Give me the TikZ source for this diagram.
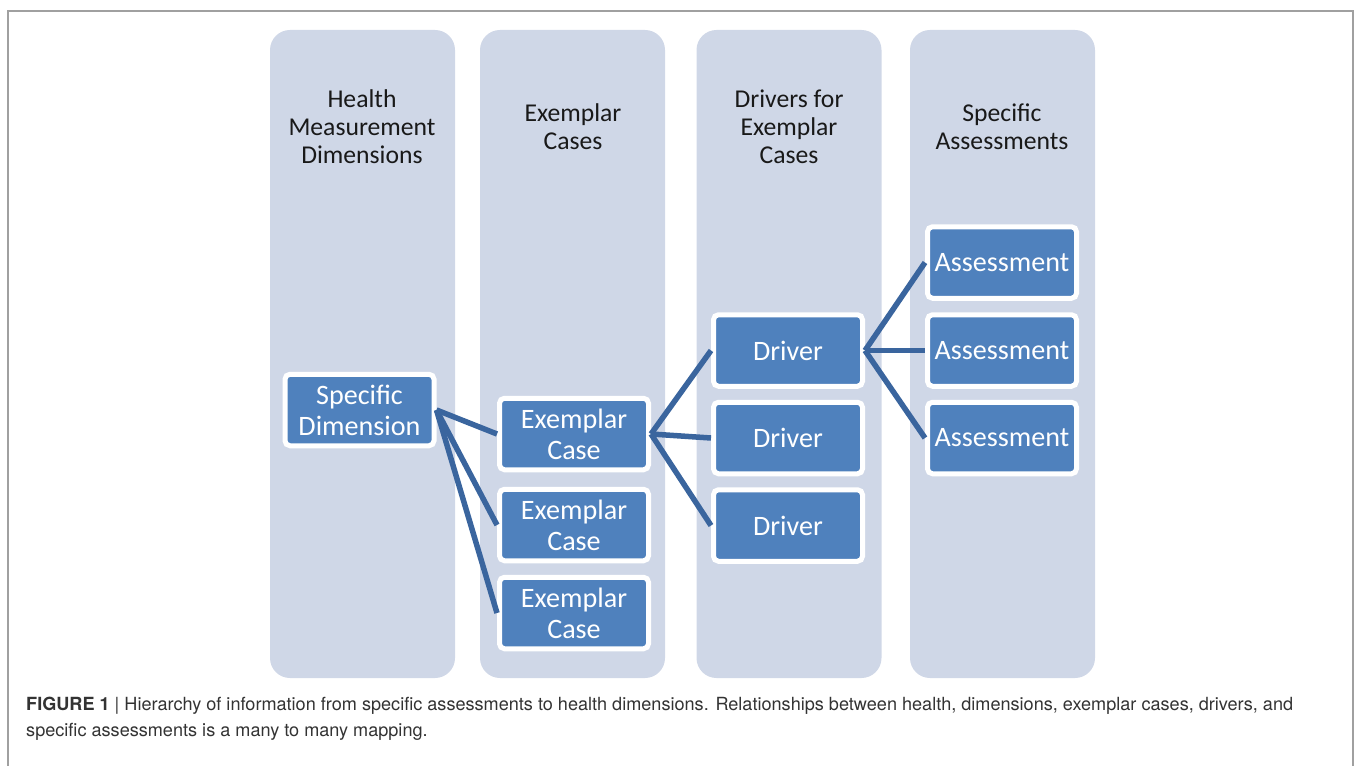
\documentclass[tikz,border=0pt]{standalone}
\usepackage{fontspec}
\usepackage{tikz}
\usetikzlibrary{positioning}
\newfontfamily\boxfont{Carlito}
\newfontfamily\capfont{TeX Gyre Heros}
\definecolor{ColBG}{HTML}{CFD7E7}
\definecolor{BoxBlue}{HTML}{4F81BD}
\definecolor{LinkBlue}{HTML}{3A659E}
\definecolor{FrameGray}{HTML}{A0A0A0}
\definecolor{CapText}{HTML}{333333}

\begin{document}
\begin{tikzpicture}[
  x=0.2mm, y=-0.2mm,
  col/.style={fill=ColBG, rounded corners=4mm, minimum width=3.7cm,
              minimum height=12.96cm, inner sep=0pt},
  hd/.style={align=center, font=\boxfont\fontsize{14.6}{15.9}\selectfont,
             text=black!90},
  nd/.style={draw=white, line width=1mm, fill=BoxBlue, rounded corners=1mm,
             minimum width=2.98cm, minimum height=1.43cm, inner sep=0pt,
             align=center, text=white,
             font=\boxfont\fontsize{16}{17.6}\selectfont},
  link/.style={LinkBlue, line width=1.1mm}]
  \useasboundingbox (0,0) rectangle (1357,766);
  % outer frame, open at the bottom
  \draw[FrameGray, line width=0.4mm] (8,766) -- (8,11) -- (1353,11) -- (1353,766);
  % the four columns
  \node[col] (C1) at (362.5,354) {};
  \node[col] (C2) at (572.5,354) {};
  \node[col] (C3) at (789,354) {};
  \node[col] (C4) at (1002.5,354) {};
  \node[hd] (H1) at (362,127) {Health\\Measurement\\Dimensions};
  \node[hd] (H2) at (573,127) {Exemplar\\Cases};
  \node[hd] (H3) at (789,127) {Drivers for\\Exemplar\\Cases};
  \node[hd] (H4) at (1002,127) {Specific\\Assessments};
  % boxes
  \node[nd] (SD) at (359.5,410) {Specific\\Dimension};
  \node[nd] (E1) at (574,434) {Exemplar\\Case};
  \node[nd] (E2) at (574,525) {Exemplar\\Case};
  \node[nd] (E3) at (574,613) {Exemplar\\Case};
  \node[nd] (D1) at (788,350.5) {Driver};
  \node[nd] (D2) at (788,438) {Driver};
  \node[nd] (D3) at (788,525.5) {Driver};
  \node[nd] (A1) at (1002,262.5) {Assessment};
  \node[nd] (A2) at (1002,350.5) {Assessment};
  \node[nd] (A3) at (1002,438) {Assessment};
  % links
  \foreach \t in {E1,E2,E3} \draw[link] (SD.east) -- (\t.west);
  \foreach \t in {D1,D2,D3} \draw[link] (E1.east) -- (\t.west);
  \foreach \t in {A1,A2,A3} \draw[link] (D1.east) -- (\t.west);
  % caption
  \node[anchor=base west, align=left, text=CapText,
        font=\capfont\fontsize{10.3}{14.7}\selectfont] (cap) at (20,736)
    {\textbf{FIGURE 1} | Hierarchy of information from specific assessments to health dimensions. Relationships between health, dimensions, exemplar cases, drivers, and\\
     specific assessments is a many to many mapping.};
\end{tikzpicture}
\end{document}
